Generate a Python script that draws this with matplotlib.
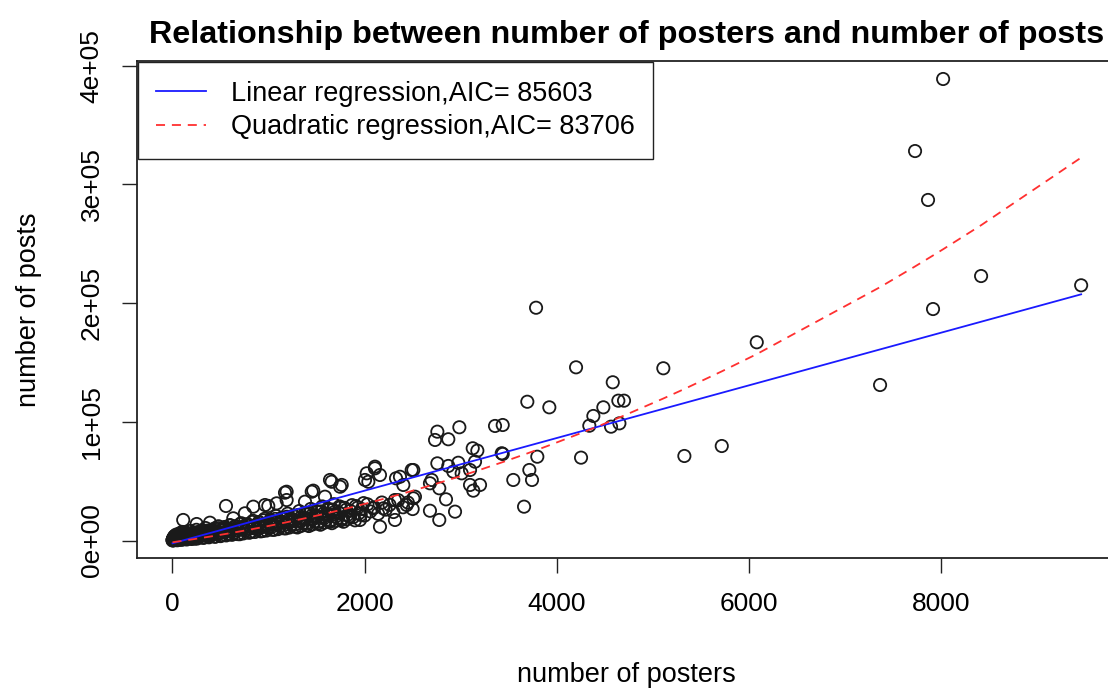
import numpy as np
import matplotlib
matplotlib.use("Agg")
import matplotlib.pyplot as plt

# ---------------- data ----------------
# dense band of small forums
band_x = [3, 5, 8, 10, 12, 15, 18, 20, 22, 25, 28, 30, 33, 36, 40, 42, 45, 48, 52, 55,
          58, 62, 65, 70, 74, 78, 82, 86, 90, 95, 100, 105, 110, 115, 120, 126, 132, 138,
          144, 150, 156, 162, 170, 178, 185, 192, 200, 210, 220, 230, 240, 250, 262, 275,
          288, 300, 315, 330, 345, 360, 380, 400, 420, 440, 460, 480, 500, 520, 545, 570,
          600, 625, 650, 680, 710, 740, 770, 800, 830, 860, 890, 920, 950, 980, 1010, 1040,
          1070, 1100, 1130, 1160, 1190, 1220, 1250, 1280, 1310, 1340, 1370, 1400, 1430,
          1460, 1490, 1520, 1550, 1580, 1610, 1640, 1670, 1700, 1730, 1760, 1790, 1820,
          1850, 1880, 1910, 1940, 1970, 2000, 2030, 2060, 2100, 2140, 2180, 2220, 2260,
          2300, 2350, 2400, 2450, 2500]
band_y = [200, 900, 400, 1500, 300, 2600, 800, 3500, 1200, 500, 2100, 4200, 1000, 2800,
          600, 5000, 1800, 3300, 900, 2400, 4600, 1500, 3000, 5600, 1100, 2000, 3800, 6400,
          1600, 2900, 4500, 7200, 2200, 3600, 5200, 1900, 3200, 4700, 6800, 2600, 4000,
          5800, 3000, 4600, 8000, 3500, 5400, 2800, 4800, 6600, 3800, 9000, 5200, 7400,
          4400, 6200, 8400, 5000, 10500, 7000, 5600, 8800, 6400, 10200, 7800, 12000, 6800,
          9600, 11400, 8200, 13000, 9400, 11800, 8600, 14200, 10400, 12600, 9800, 15600,
          11600, 13800, 10800, 17000, 12800, 15000, 11800, 18200, 14000, 16200, 12800,
          20000, 15200, 17600, 13600, 21500, 16400, 19000, 14800, 23000, 17800, 20400,
          15800, 24500, 19000, 22000, 17000, 26000, 20200, 23500, 18200, 27500, 21400,
          25000, 19600, 29000, 23000, 26500, 21000, 30500, 24500, 28000, 22500, 32000,
          26000, 30000, 24000, 34000, 28000, 32000, 26500]

# lower, middle and upper parts of the dense band
low_x = [50, 100, 150, 200, 260, 320, 380, 440, 500, 560, 620, 680, 740, 800, 860, 920,
         980, 1040, 1100, 1160, 1220, 1280, 1340, 1400, 1460, 1520, 1580, 1640, 1700,
         1760, 1820]
low_y = [200, 600, 900, 1300, 1700, 2200, 2700, 3200, 3700, 4300, 4800, 5400, 6000, 6500,
         7200, 7700, 8400, 9000, 9600, 10300, 11000, 11600, 12300, 13000, 13600, 14400,
         15000, 15800, 16500, 17200, 18000]
mid_x = [35, 75, 130, 190, 245, 305, 365, 425, 485, 545, 605, 665, 725, 785, 845, 905,
         965, 1025, 1085, 1145, 1205, 1265, 1325, 1385, 1445, 1505, 1565, 1625, 1685, 1745]
mid_y = [800, 1400, 2000, 2600, 3300, 4000, 4700, 5400, 6300, 7000, 7800, 8500, 9300,
         10100, 10900, 11700, 12500, 13200, 14000, 14900, 15700, 16400, 17300, 18100,
         18800, 19700, 20400, 21300, 22100, 22900]
up_x = [60, 120, 180, 240, 300, 360, 420, 480, 540, 600, 660, 720, 780, 840, 900, 960,
        1020, 1080, 1140, 1200, 1260, 1320, 1380, 1440, 1500, 1560, 1620, 1680, 1740]
up_y = [2200, 3900, 4300, 6100, 6400, 8300, 8200, 10400, 10100, 12600, 11900, 14500,
        13800, 16600, 15600, 18300, 17400, 20600, 19200, 22600, 21000, 24800, 23000,
        26600, 24800, 28700, 26800, 30600, 28700]
fill_x = [140, 170, 210, 235, 270, 295, 335, 355, 390, 410, 450, 470, 510, 530, 580, 590,
          640, 660, 700, 730, 760, 790, 820, 850, 880, 910, 940, 970, 1000, 1030, 1060,
          1090, 1120, 1150, 1180, 1210, 1240, 1270, 1300, 1330, 1360, 1390, 1420, 1450,
          1480, 1510, 1540, 1570, 1600, 1630, 1660, 1690, 1720, 1750, 1780, 1810, 1840,
          1870, 1900, 1930, 1960, 1990]
fill_y = [1200, 2200, 3600, 1500, 3100, 5000, 2600, 5900, 3500, 6800, 3300, 6200, 4200,
          8600, 5300, 9900, 6000, 10200, 5300, 11600, 8200, 13100, 7300, 12400, 9500,
          14900, 8000, 13600, 10600, 16400, 9000, 15800, 12000, 18200, 10200, 17300, 13300,
          20100, 11000, 19000, 14600, 22000, 12200, 20800, 16000, 24000, 13300, 22500,
          17400, 26000, 14600, 24200, 18800, 28000, 15800, 26000, 20200, 29800, 17000,
          27800, 21600, 31500]
origin_x = [2, 4, 6, 9, 14, 16, 24, 27, 32, 38, 44, 50, 56, 64, 68, 76, 84, 92, 98, 108]
origin_y = [100, 600, 1100, 1800, 200, 1300, 2000, 700, 3000, 1600, 2400, 3900, 700, 2300,
            4200, 3100, 800, 4000, 2000, 5200]

# scattered points
spread_x = [113, 253, 391, 558, 634, 755, 842, 964, 998, 1085, 1172, 1189, 1189, 1380,
            1450, 1466, 1588, 1640, 1657, 1745, 1762, 1848, 1952, 2004, 2022, 2039, 2090,
            2108, 2108, 2160, 2160, 2195, 2316, 2316, 2327, 2368, 2403, 2438, 2490, 2507,
            2507, 2524, 2680, 2680, 2698, 2733, 2757, 2757, 2777, 2777, 2847, 2871, 2871,
            2923, 2941, 2975, 2986, 3010, 3097, 3097, 3125, 3131, 3149, 3173, 3201, 3357,
            3427, 3437, 3437, 3547, 3659, 3693, 3714, 3742, 3784, 3797, 3922, 4200, 4252,
            4338, 4380, 4484, 4564, 4582, 4640, 4651, 4699, 5108, 5327, 5716, 6080, 7363,
            7727, 7862, 7914, 8019, 8414, 9455]
spread_y = [17300, 13900, 15000, 29100, 18700, 22900, 28500, 29900, 29100, 31300, 40300,
            41100, 34100, 32700, 41100, 42000, 36900, 51000, 49500, 45300, 46800, 20000,
            17300, 51000, 56600, 49500, 27100, 62200, 60800, 55200, 11600, 27100, 34100,
            17300, 52400, 53700, 46800, 29900, 59400, 35500, 59400, 36900, 48200, 25100,
            51000, 84700, 91700, 65000, 44000, 17300, 34700, 85300, 62800, 58000, 24300,
            65500, 95400, 56600, 59400, 46800, 77700, 42000, 66400, 75700, 46800, 96500,
            73500, 97300, 72900, 51000, 28500, 116900, 59400, 51000, 196100, 70600, 112200,
            145900, 69800, 96700, 104900, 112200, 95900, 133300, 117800, 98700, 117800,
            145100, 71200, 79600, 167000, 131000, 328100, 286900, 195000, 388800, 222800,
            215000]

posters = np.array(band_x + low_x + mid_x + up_x + fill_x + origin_x + spread_x,
                   dtype=float)
posts = np.array(band_y + low_y + mid_y + up_y + fill_y + origin_y + spread_y,
                 dtype=float)

# fitted models (coefficients)
lin_coef = [-2400.0, 22.19]            # intercept, slope
quad_coef = [-1500.0, 11.3, 0.00243]    # c0, c1, c2
lin_label = "Linear regression,AIC= 85603"
quad_label = "Quadratic regression,AIC= 83706"

title = "Relationship between number of posters and number of posts"
xlab = "number of posters"
ylab = "number of posts"
xticks = [0, 2000, 4000, 6000, 8000]
yticks = [0, 100000, 200000, 300000, 400000]
ytick_labels = ["0e+00", "1e+05", "2e+05", "3e+05", "4e+05"]

# ---------------- plot ----------------
plt.rcParams['font.family'] = ['Liberation Sans', 'DejaVu Sans']
W, H = 1108, 688
fig = plt.figure(figsize=(W / 100, H / 100), dpi=100)
ax_l, ax_r, ax_t, ax_b = 136.5, 1117.0, 61.0, 558.0
ax = fig.add_axes([ax_l / W, 1 - ax_b / H, (ax_r - ax_l) / W, (ax_b - ax_t) / H])

ax.scatter(posters, posts, s=78, facecolors='none', edgecolors='#1a1a1a',
           linewidths=1.3, zorder=2)

xs = np.sort(posters)
ax.plot(xs, lin_coef[0] + lin_coef[1] * xs, color='#1a1aff', lw=1.3,
        label=lin_label, zorder=3)
ax.plot(xs, quad_coef[0] + quad_coef[1] * xs + quad_coef[2] * xs ** 2,
        color='#ff3030', lw=1.3, ls=(0, (5, 3.8)), label=quad_label, zorder=3)

ax.set_xlim(-373, 9828)
ax.set_ylim(-14740, 403960)

ax.set_xticks(xticks)
ax.set_xticklabels([str(v) for v in xticks])
ax.set_yticks(yticks)
ax.set_yticklabels(ytick_labels, rotation=90, va='center')
ax.tick_params(axis='both', direction='out', length=10.5, width=1.0,
               labelsize=19, color='#222222')
ax.tick_params(axis='x', pad=14)
ax.tick_params(axis='y', pad=13)
for sp in ax.spines.values():
    sp.set_linewidth(1.3)
    sp.set_color('#222222')

ax.set_title(title, fontsize=23.3, fontweight='bold', pad=13)
ax.set_xlabel(xlab, fontsize=19.5)
ax.xaxis.set_label_coords(0.5, -0.21)
ax.set_ylabel(ylab, fontsize=19.5)
ax.yaxis.set_label_coords(-0.0964, 0.5)

leg = ax.legend(loc='upper left', bbox_to_anchor=(0.0, 1.0), borderaxespad=0.05,
                fontsize=19.5, frameon=True, fancybox=False, framealpha=1,
                edgecolor='#222222', handlelength=1.85, handletextpad=0.9,
                borderpad=0.68, labelspacing=0.27)
leg.get_frame().set_linewidth(1.0)

fig.savefig("out.png", dpi=100)
